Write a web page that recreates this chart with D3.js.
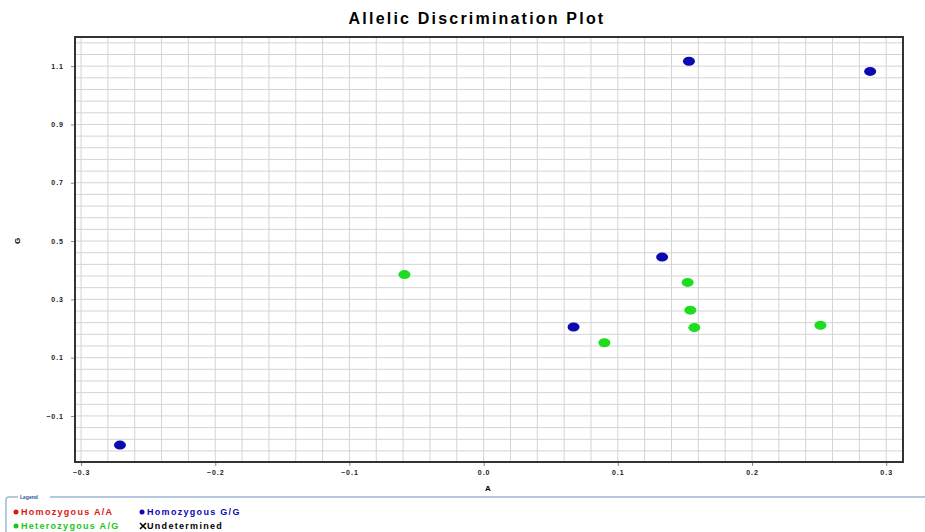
<!DOCTYPE html>
<html>
<head>
<meta charset="utf-8">
<script src="https://cdn.jsdelivr.net/npm/d3@7"></script>
<style>
  body { margin: 0; background: #fff; }
  svg { display: block; font-family: Arial, "Liberation Sans", sans-serif; }
</style>
</head>
<body>
<div id="chart"></div>
<script>
// values (allele A on x, allele G on y)
var homGGx = [0.153, 0.288, 0.133, 0.067, -0.271];
var homGGy = [1.117, 1.082, 0.445, 0.205, -0.200];
var hetAGx = [-0.059, 0.152, 0.154, 0.157, 0.251, 0.090];
var hetAGy = [0.385, 0.358, 0.263, 0.203, 0.211, 0.151];
var xTicks = [-0.3, -0.2, -0.1, 0.0, 0.1, 0.2, 0.3];
var yTicks = [-0.1, 0.1, 0.3, 0.5, 0.7, 0.9, 1.1];
var legendNames = ["Homozygous A/A", "Homozygous G/G", "Heterozygous A/G", "Undetermined"];
var legendColors = ["#d81818", "#0a0ab0", "#18c818", "#000"];

var w = 925, h = 532;

var svg = d3.select("#chart")
    .append("svg")
    .attr("width", w)
    .attr("height", h);

// plot area
var x = d3.scaleLinear().domain([-0.3045, 0.3125]).range([75, 903]);
var y = d3.scaleLinear().domain([-0.258, 1.2]).range([462, 37]);

//gridlines, 0.02 apart on x and 0.04 apart on y
var vGrid = d3.range(-15, 16).map(function (k) { return k * 0.02; });
var hGrid = d3.range(-8, 28).map(function (k) { return 0.1 + k * 0.04; })
    .filter(function (v) { return v > -0.258 && v < 1.2; });

svg.append("g").selectAll("line")
    .data(vGrid)
    .enter()
    .append("line")
    .attr("x1", function (d) { return x(d); })
    .attr("x2", function (d) { return x(d); })
    .attr("y1", y(1.2))
    .attr("y2", y(-0.258))
    .style("stroke", "#d4d4d4")
    .style("stroke-width", 1);

svg.append("g").selectAll("line")
    .data(hGrid)
    .enter()
    .append("line")
    .attr("x1", x(-0.3045))
    .attr("x2", x(0.3125))
    .attr("y1", function (d) { return y(d); })
    .attr("y2", function (d) { return y(d); })
    .style("stroke", "#d4d4d4")
    .style("stroke-width", 1);

// axes
var fmt = d3.format(".1f");
var xAxis = svg.append("g")
    .attr("transform", "translate(0," + y(-0.258) + ")")
    .call(d3.axisBottom(x).tickValues(xTicks).tickFormat(fmt).tickSize(4).tickSizeOuter(0));
var yAxis = svg.append("g")
    .attr("transform", "translate(" + x(-0.3045) + ",0)")
    .call(d3.axisLeft(y).tickValues(yTicks).tickFormat(fmt).tickSize(4).tickSizeOuter(0));

[xAxis, yAxis].forEach(function (a) {
    a.select(".domain").remove();
    a.selectAll(".tick line").style("stroke", "#888");
    a.selectAll(".tick text")
        .style("font-size", "7px")
        .style("font-weight", "bold")
        .style("fill", "#222")
        .style("letter-spacing", "1px");
});
xAxis.selectAll(".tick text").attr("dy", "0.71em").attr("y", 8);
yAxis.selectAll(".tick text").attr("x", -11);

// frame
svg.append("rect")
    .attr("x", x(-0.3045))
    .attr("y", y(1.2))
    .attr("width", x(0.3125) - x(-0.3045))
    .attr("height", y(-0.258) - y(1.2))
    .style("fill", "none")
    .style("stroke", "#333")
    .style("stroke-width", 2);

// points
var homGG = homGGx.map(function (v, i) { return {a: v, g: homGGy[i]}; });
var hetAG = hetAGx.map(function (v, i) { return {a: v, g: hetAGy[i]}; });

svg.append("g").selectAll("ellipse")
    .data(homGG)
    .enter()
    .append("ellipse")
    .attr("cx", function (d) { return x(d.a); })
    .attr("cy", function (d) { return y(d.g); })
    .attr("rx", 6)
    .attr("ry", 4.5)
    .style("fill", "#0a0ab0");

svg.append("g").selectAll("ellipse")
    .data(hetAG)
    .enter()
    .append("ellipse")
    .attr("cx", function (d) { return x(d.a); })
    .attr("cy", function (d) { return y(d.g); })
    .attr("rx", 6)
    .attr("ry", 4.5)
    .style("fill", "#1edc1e");

// title and axis labels
svg.append("text")
    .attr("x", 477)
    .attr("y", 24)
    .attr("text-anchor", "middle")
    .style("font-size", "16px")
    .style("font-weight", "bold")
    .style("letter-spacing", "2.2px")
    .text("Allelic Discrimination Plot");

svg.append("text")
    .attr("x", 488)
    .attr("y", 491)
    .attr("text-anchor", "middle")
    .style("font-size", "8px")
    .style("font-weight", "bold")
    .text("A");

svg.append("text")
    .attr("transform", "translate(20,241) rotate(-90)")
    .attr("text-anchor", "middle")
    .style("font-size", "8px")
    .style("font-weight", "bold")
    .text("G");

// legend box
svg.append("rect")
    .attr("x", 6)
    .attr("y", 497)
    .attr("width", 940)
    .attr("height", 60)
    .attr("rx", 3)
    .style("fill", "none")
    .style("stroke", "#9fb7d4")
    .style("stroke-width", 1.5);

svg.append("rect")
    .attr("x", 18)
    .attr("y", 493)
    .attr("width", 32)
    .attr("height", 8)
    .style("fill", "#fff");

svg.append("text")
    .attr("x", 20)
    .attr("y", 499)
    .style("font-size", "5px")
    .style("font-weight", "bold")
    .style("fill", "#2050a0")
    .text("Legend");

var legendPos = [[16, 512], [142, 512], [16, 526], [143, 526]];

var items = svg.append("g").selectAll("g")
    .data(legendNames)
    .enter()
    .append("g")
    .attr("transform", function (d, i) { return "translate(" + legendPos[i][0] + "," + legendPos[i][1] + ")"; });

items.each(function (d, i) {
    var g = d3.select(this);
    if (i < 3) {
        g.append("circle").attr("r", 2.5).style("fill", legendColors[i]);
    } else {
        g.append("path")
            .attr("d", "M-3,-3L3,3M-3,3L3,-3")
            .style("stroke", "#000")
            .style("stroke-width", 1.6);
    }
    g.append("text")
        .attr("x", i < 3 ? 5 : 4)
        .attr("y", 3)
        .style("font-size", "9px")
        .style("font-weight", "bold")
        .style("letter-spacing", "1.3px")
        .style("fill", legendColors[i])
        .text(d);
});
</script>
</body>
</html>
